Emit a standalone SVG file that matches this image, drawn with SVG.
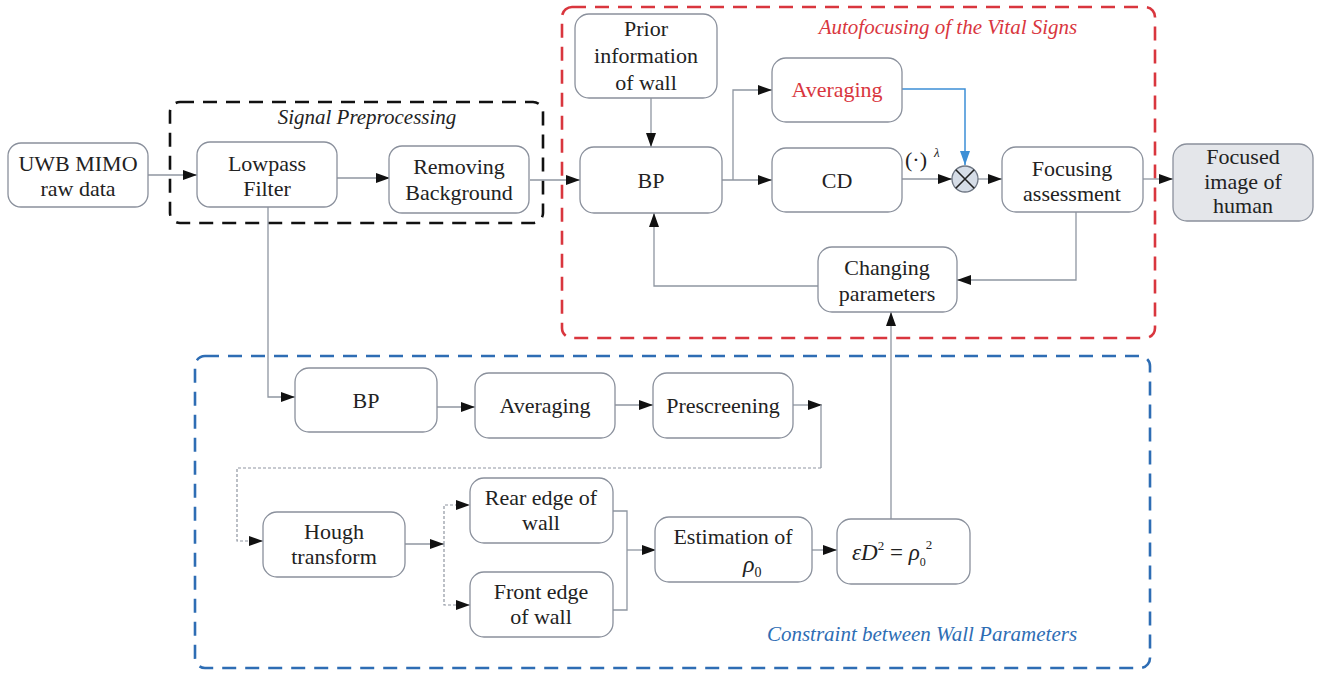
<svg xmlns="http://www.w3.org/2000/svg" width="1324" height="679" viewBox="0 0 1324 679">
<style>
.box{fill:#fff;stroke:#8a909c;stroke-width:1.3}
.grey{fill:#e4e6ea}
text{font-family:"Liberation Serif","Tinos","DejaVu Serif",serif}
.t{font-size:22px;fill:#222;text-anchor:middle}
.ti{font-size:21px;font-style:italic;text-anchor:middle}
.m{font-size:22px;fill:#222}
.c{fill:none;stroke:#8f96a1;stroke-width:1.3}
.cd{fill:none;stroke:#8f96a1;stroke-width:1.2;stroke-dasharray:3 2}
.cb{fill:none;stroke:#3d8fd6;stroke-width:1.5}
.grp{fill:none;stroke-width:2.6;stroke-dasharray:14 9}
</style>
<defs>
<marker id="a" viewBox="0 0 14 10" refX="14" refY="5" markerWidth="14" markerHeight="10" markerUnits="userSpaceOnUse" orient="auto"><path d="M0,0 L14,5 L0,10 z" fill="#111"/></marker>
<marker id="ab" viewBox="0 0 14 10" refX="14" refY="5" markerWidth="14" markerHeight="10" markerUnits="userSpaceOnUse" orient="auto"><path d="M0,0 L14,5 L0,10 z" fill="#3d8fd6"/></marker>
</defs>
<rect width="1324" height="679" fill="#fff"/>

<g id="groups">
<rect x="170" y="102" width="373" height="121" rx="10" class="grp" stroke="#111"/>
<text x="367" y="124" class="ti" fill="#222">Signal Preprocessing</text>
<rect x="562" y="7" width="593" height="331" rx="10" class="grp" stroke="#d9363e"/>
<text x="948" y="34" class="ti" fill="#d9363e">Autofocusing of the Vital Signs</text>
<rect x="195" y="356" width="955" height="312" rx="10" class="grp" stroke="#2e6db4"/>
<text x="922" y="641" class="ti" fill="#2e6db4">Constraint between Wall Parameters</text>
</g>

<g id="connectors">
<path class="c" d="M148,175 H197" marker-end="url(#a)"/>
<path class="c" d="M337,178 H390" marker-end="url(#a)"/>
<path class="c" d="M530,180 H580" marker-end="url(#a)"/>
<path class="c" d="M651,98 V147" marker-end="url(#a)"/>
<path class="c" d="M722,180 H772" marker-end="url(#a)"/>
<path class="c" d="M733,180 V90 H772" marker-end="url(#a)"/>
<path class="cb" d="M902,89 H965 V165" marker-end="url(#ab)"/>
<path class="c" d="M902,179 H952" marker-end="url(#a)"/>
<path class="c" d="M978,179 H1002" marker-end="url(#a)"/>
<path class="c" d="M1143,179 H1173" marker-end="url(#a)"/>
<path class="c" d="M1076,212 V280 H957" marker-end="url(#a)"/>
<path class="c" d="M818,286 H654 V213" marker-end="url(#a)"/>
<path class="c" d="M268,207 V397 H295" marker-end="url(#a)"/>
<path class="c" d="M437,407 H475" marker-end="url(#a)"/>
<path class="c" d="M615,405 H653" marker-end="url(#a)"/>
<path class="c" d="M793,405 H822" marker-end="url(#a)"/>
<path class="c" d="M821,405 V468"/>
<path class="cd" d="M821,468 H237 V541 H263" marker-end="url(#a)"/>
<path class="c" d="M405,544 H444" marker-end="url(#a)"/>
<path class="cd" d="M444,544 V505 H470" marker-end="url(#a)"/>
<path class="cd" d="M444,544 V605 H470" marker-end="url(#a)"/>
<path class="c" d="M613,511 H627 V610 H613"/>
<path class="c" d="M627,550 H656" marker-end="url(#a)"/>
<path class="c" d="M812,550 H837" marker-end="url(#a)"/>
<path class="c" d="M891,519 V312" marker-end="url(#a)"/>
</g>

<g id="uwb"><rect x="8" y="143" width="140" height="64" rx="13" class="box"/><text class="t" x="78" y="171">UWB MIMO</text><text class="t" x="78" y="196">raw data</text></g>
<g id="lowpass"><rect x="197" y="142" width="140" height="65" rx="13" class="box"/><text class="t" x="267" y="171">Lowpass</text><text class="t" x="267" y="196">Filter</text></g>
<g id="removing"><rect x="389" y="146" width="140" height="67" rx="13" class="box"/><text class="t" x="459" y="174">Removing</text><text class="t" x="459" y="200">Background</text></g>
<g id="prior"><rect x="575" y="14" width="142" height="84" rx="14" class="box"/><text class="t" x="646" y="36">Prior</text><text class="t" x="646" y="63">information</text><text class="t" x="646" y="90">of wall</text></g>
<g id="bp1"><rect x="580" y="147" width="142" height="66" rx="14" class="box"/><text class="t" x="651" y="188">BP</text></g>
<g id="avg1"><rect x="772" y="58" width="130" height="64" rx="14" class="box"/><text class="t" x="837" y="97" style="fill:#d9363e">Averaging</text></g>
<g id="cd"><rect x="772" y="148" width="130" height="64" rx="14" class="box"/><text class="t" x="837" y="188">CD</text></g>
<g id="pow"><text x="905" y="167" class="m">(·)</text><text x="934" y="157" class="m" style="font-size:13px;font-style:italic">λ</text></g>
<g id="mult"><circle cx="965" cy="179" r="13" fill="#d6dde7" stroke="#6f7784" stroke-width="1.3"/><path d="M955.8,169.8 L974.2,188.2 M974.2,169.8 L955.8,188.2" stroke="#222" stroke-width="1.6"/></g>
<g id="focusing"><rect x="1002" y="147" width="141" height="65" rx="14" class="box"/><text class="t" x="1072" y="176">Focusing</text><text class="t" x="1072" y="201">assessment</text></g>
<g id="focused"><rect x="1173" y="144" width="140" height="77" rx="14" class="box grey"/><text class="t" x="1243" y="164">Focused</text><text class="t" x="1243" y="189">image of</text><text class="t" x="1243" y="213">human</text></g>
<g id="changing"><rect x="818" y="247" width="139" height="65" rx="14" class="box"/><text class="t" x="887" y="275">Changing</text><text class="t" x="887" y="301">parameters</text></g>

<g id="bp2"><rect x="295" y="368" width="142" height="64" rx="14" class="box"/><text class="t" x="366" y="408">BP</text></g>
<g id="avg2"><rect x="475" y="373" width="140" height="65" rx="14" class="box"/><text class="t" x="545" y="413">Averaging</text></g>
<g id="prescreen"><rect x="653" y="373" width="140" height="65" rx="14" class="box"/><text class="t" x="723" y="413">Prescreening</text></g>
<g id="hough"><rect x="263" y="512" width="142" height="65" rx="14" class="box"/><text class="t" x="334" y="539">Hough</text><text class="t" x="334" y="564">transform</text></g>
<g id="rear"><rect x="470" y="478" width="143" height="65" rx="14" class="box"/><text class="t" x="541" y="505">Rear edge of</text><text class="t" x="541" y="530">wall</text></g>
<g id="front"><rect x="470" y="572" width="143" height="65" rx="14" class="box"/><text class="t" x="541" y="599">Front edge</text><text class="t" x="541" y="624">of wall</text></g>
<g id="estimation"><rect x="655" y="517" width="157" height="65" rx="14" class="box"/><text class="t" x="733" y="544">Estimation of</text><text x="743" y="572" class="m" style="font-size:24px;font-style:italic">ρ<tspan style="font-size:14px;font-style:normal" dy="5">0</tspan></text></g>
<g id="constraint"><rect x="837" y="519" width="133" height="65" rx="14" class="box"/><text x="852" y="560" class="m" style="font-size:23px"><tspan style="font-style:italic">εD</tspan><tspan style="font-size:13px" dy="-10">2</tspan><tspan dy="10"> = </tspan><tspan style="font-style:italic">ρ</tspan><tspan style="font-size:12px" dy="6">0</tspan><tspan style="font-size:13px" dy="-17">2</tspan></text></g>
</svg>
